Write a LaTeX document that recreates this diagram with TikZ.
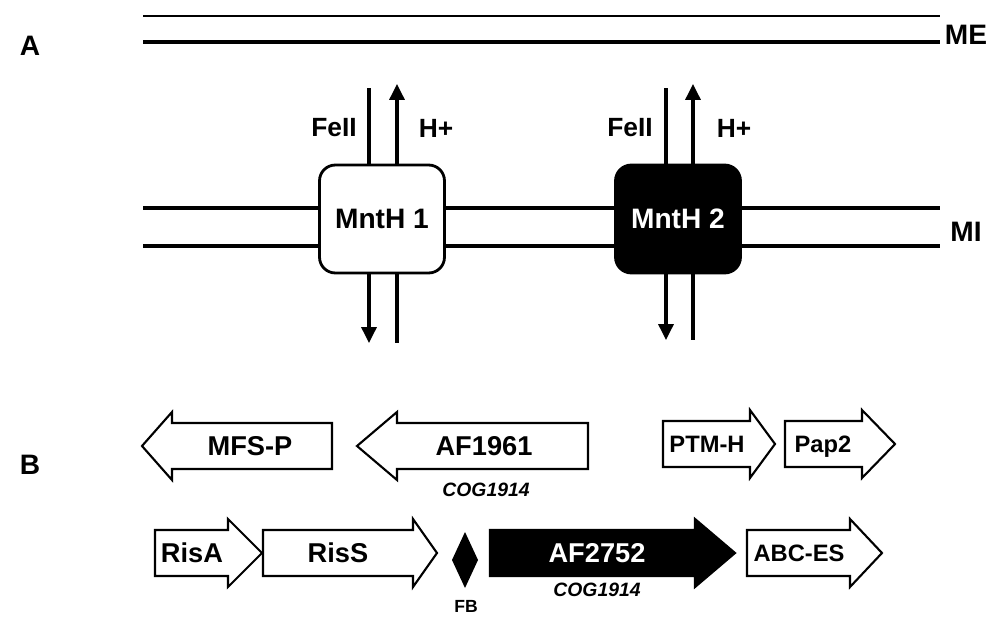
\documentclass[tikz,border=0pt]{standalone}
\usepackage{fontspec}
\setmainfont{Liberation Sans}
\usetikzlibrary{arrows.meta,positioning}
\tikzset{
  membrana/.style={line width=2pt},
  caja/.style={draw,line width=1.6pt,rounded corners=9pt,minimum width=2.5cm,minimum height=2.16cm,
    font=\fontsize{16}{19}\selectfont\bfseries},
  flujo/.style={line width=1.8pt,>={Triangle[length=9pt,width=8.5pt]}},
  gen/.style={draw,line width=1.2pt,fill=white,line join=miter},
  rotulo/.style={font=\fontsize{15.5}{18}\selectfont\bfseries,text height=11pt,text depth=0pt},
  rotulop/.style={rotulo,font=\fontsize{13.5}{16}\selectfont\bfseries,text height=9.7pt},
  cog/.style={font=\fontsize{11}{13}\selectfont\bfseries\itshape},
  ion/.style={font=\fontsize{15}{18}\selectfont\bfseries},
  panel/.style={font=\fontsize{16}{19}\selectfont\bfseries}
}
% flecha de gen: [estilo]{cola x}{punta x}{base de la punta x}{y}
\newcommand{\flecha}[5][]{%
  \draw[gen,#1] (#2,#5-23) -- (#4,#5-23) -- (#4,#5-34) -- (#3,#5) -- (#4,#5+34)
    -- (#4,#5+23) -- (#2,#5+23) -- cycle;}

\begin{document}
\begin{tikzpicture}[x=0.02cm,y=-0.02cm]
\useasboundingbox (0,0) rectangle (992,619);

% A: membranas
\node[panel] (pA) at (30,46) {A};
\coordinate (me1i) at (143,16); \coordinate (me1d) at (940,16);
\coordinate (me2i) at (143,42); \coordinate (me2d) at (940,42);
\coordinate (mi1i) at (143,208); \coordinate (mi1d) at (940,208);
\coordinate (mi2i) at (143,246); \coordinate (mi2d) at (940,246);
\draw[line width=1.7pt] (me1i) -- (me1d);
\draw[membrana] (me2i) -- (me2d);
\draw[membrana] (mi1i) -- (mi1d);
\draw[membrana] (mi2i) -- (mi2d);
\node[panel] (me) at (966,35) {ME};
\node[panel] (mi) at (966,232) {MI};

% transportadores
\node[caja,fill=white] (m1) at (382,219) {MntH 1};
\node[caja,fill=black,text=white] (m2) at (678,219) {MntH 2};

\coordinate (fe1s) at (369,88);  \coordinate (fe1i) at (369,343);
\coordinate (h1s) at (397,84);   \coordinate (h1i) at (397,343);
\coordinate (fe2s) at (666,88);  \coordinate (fe2i) at (666,340);
\coordinate (h2s) at (693,84);   \coordinate (h2i) at (693,340);

\draw[flujo] (fe1s) -- (fe1s |- m1.north);
\draw[flujo,->] (h1s |- m1.north) -- (h1s);
\draw[flujo,->] (fe1i |- m1.south) -- (fe1i);
\draw[flujo] (h1i |- m1.south) -- (h1i);
\draw[flujo] (fe2s) -- (fe2s |- m2.north);
\draw[flujo,->] (h2s |- m2.north) -- (h2s);
\draw[flujo,->] (fe2i |- m2.south) -- (fe2i);
\draw[flujo] (h2i |- m2.south) -- (h2i);

\node[ion] (fe1) at (334,128) {FeII};
\node[ion] (h1) at (436,128) {H+};
\node[ion] (fe2) at (630,128) {FeII};
\node[ion] (h2) at (734,128) {H+};

% B: genes
\node[panel] (pB) at (30,465) {B};
\flecha{332}{142}{172}{446}
\flecha{588}{357}{397}{446}
\flecha{663}{775}{750}{444}
\flecha{785}{895}{862}{444}
\flecha{155}{262}{228}{553}
\flecha{263}{437}{413}{553}
\flecha[fill=black]{490}{735}{695}{553}
\flecha{747}{882}{850}{553}
\fill (465,532) -- (478,560) -- (465,588) -- (452,560) -- cycle;

\node[rotulo] (mfsp) at (250,446) {MFS-P};
\node[rotulo] (af1961) at (484,446) {AF1961};
\node[cog] (cog1) at (486,490) {COG1914};
\node[rotulop] (ptmh) at (707,444) {PTM-H};
\node[rotulop] (pap2) at (823,444) {Pap2};
\node[rotulo] (risa) at (192,553) {RisA};
\node[rotulo] (riss) at (338,553) {RisS};
\node[rotulo,text=white] (af2752) at (597,553) {AF2752};
\node[cog] (cog2) at (597,590) {COG1914};
\node[rotulop] (abces) at (799,553) {ABC-ES};
\node[font=\fontsize{10}{12}\selectfont\bfseries] (fb) at (466,606) {FB};
\end{tikzpicture}
\end{document}
